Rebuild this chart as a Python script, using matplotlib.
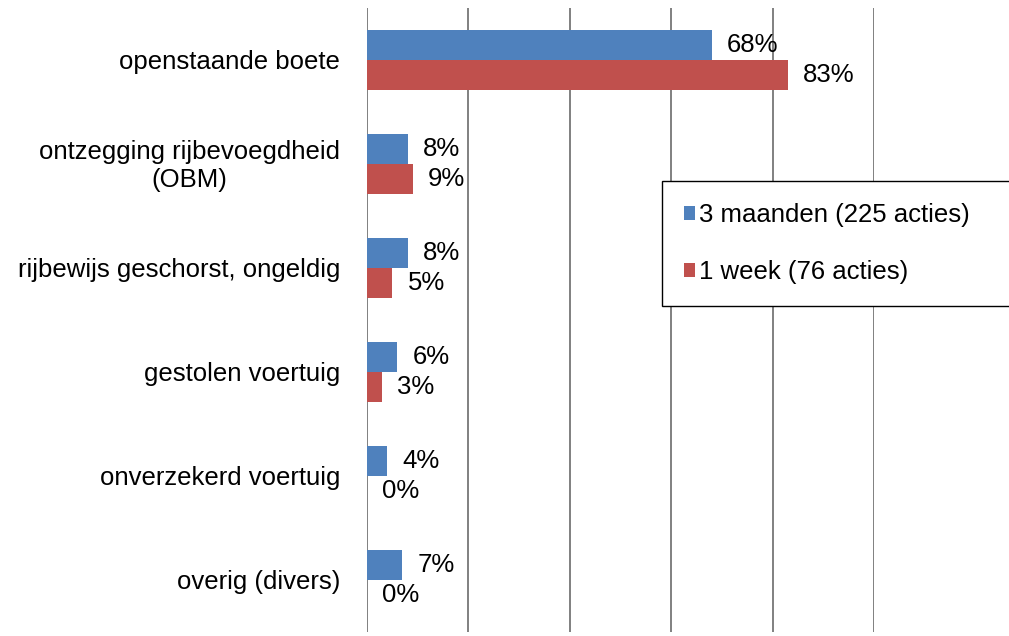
import matplotlib
matplotlib.use('Agg')
import matplotlib.pyplot as plt
import matplotlib.transforms as mtransforms
import numpy as np

plt.rcParams['font.family'] = ['Liberation Sans', 'DejaVu Sans']

CATEGORIES = ['openstaande boete', 'ontzegging rijbevoegdheid\n(OBM)',
              'rijbewijs geschorst, ongeldig', 'gestolen voertuig',
              'onverzekerd voertuig', 'overig (divers)']
MONTHS_3 = [68, 8, 8, 6, 4, 7]   # 3 maanden (225 acties)
WEEK_1 = [83, 9, 5, 3, 0, 0]     # 1 week (76 acties)
SERIES_LABELS = ['3 maanden (225 acties)', '1 week (76 acties)']

BLUE = '#4F81BD'
RED = '#C0504D'
FS = 18.5

fig = plt.figure(figsize=(10.09, 6.36), dpi=100)
ax = fig.add_axes([367 / 1009, 1 - 632 / 636, (874 - 367) / 1009, 624 / 636])

y = np.arange(len(CATEGORIES))
h = 0.29
b1 = ax.barh(y - h / 2, MONTHS_3, height=h, color=BLUE, label=SERIES_LABELS[0], zorder=3)
b2 = ax.barh(y + h / 2, WEEK_1, height=h, color=RED, label=SERIES_LABELS[1], zorder=3)

for bars, vals in ((b1, MONTHS_3), (b2, WEEK_1)):
    ax.bar_label(bars, labels=[f'{v}%' for v in vals], padding=11, fontsize=FS)

ax.set_xlim(0, 100)
ax.set_ylim(len(CATEGORIES) - 0.5, -0.5)
ax.set_xticks(range(0, 101, 20))
ax.set_xticklabels([])
ax.set_yticks(y)
ax.set_yticklabels([])
ax.tick_params(length=0)

# category labels: right aligned, wrapped lines centred on each other
trans = ax.get_yaxis_transform() + mtransforms.ScaledTranslation(-27 / 100, -2 / 100, fig.dpi_scale_trans)
for yi, cat in zip(y, CATEGORIES):
    ax.text(0, yi, cat, transform=trans, ha='right', va='center',
            multialignment='center', fontsize=FS, linespacing=1.25)

ax.grid(axis='x', color='#808080', lw=1.4, zorder=0)
for s in ax.spines.values():
    s.set_visible(False)

leg = fig.legend(handles=[b1, b2], loc='upper left', mode='expand',
                 bbox_to_anchor=(662 / 1009, 1 - 181 / 636, 0.4, 0),
                 fontsize=FS, frameon=True, fancybox=False, edgecolor='black',
                 framealpha=1, handlelength=0.45, handleheight=0.45,
                 handletextpad=0.15, labelspacing=1.3, borderpad=0.85,
                 borderaxespad=0)
leg.get_frame().set_linewidth(1.0)

fig.savefig('out.png', dpi=100)
